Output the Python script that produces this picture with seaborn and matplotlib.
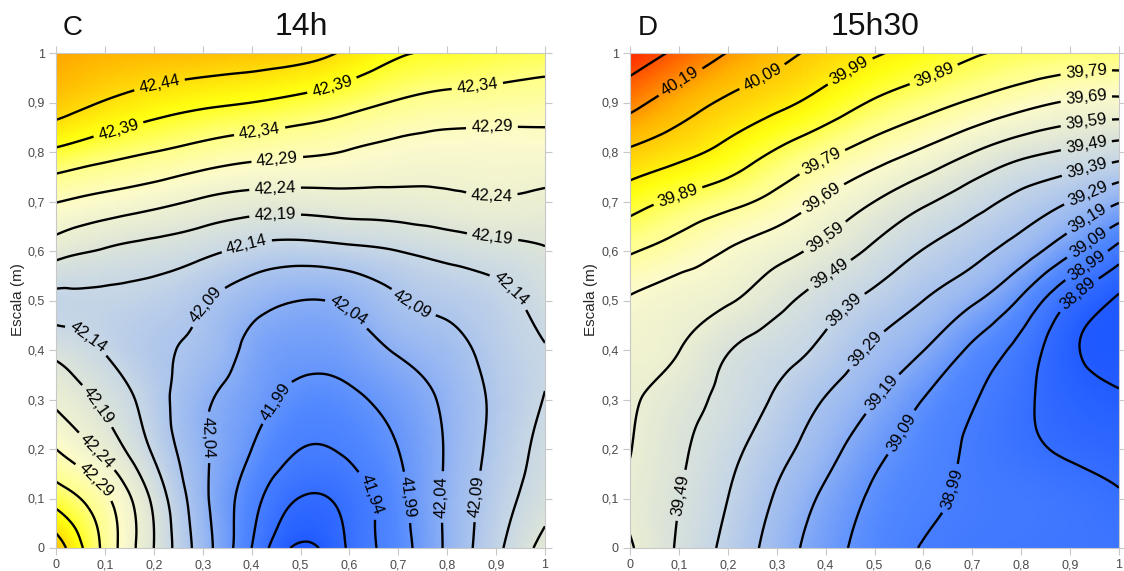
import numpy as np
import matplotlib
matplotlib.use("Agg")
import matplotlib.pyplot as plt
import matplotlib.tri as mtri
from matplotlib.colors import LinearSegmentedColormap, Normalize
import seaborn as sns

# ---------------------------------------------------------------------------
# Temperature fields (°C) sampled on a 0.1 m grid; rows run from y = 0 to 1
# ---------------------------------------------------------------------------
grid_x = [0.0, 0.1, 0.2, 0.3, 0.4, 0.5, 0.6, 0.7, 0.8, 0.9, 1.0]
grid_y = [0.0, 0.1, 0.2, 0.3, 0.4, 0.5, 0.6, 0.7, 0.8, 0.9, 1.0]

temp_14h = [
    [42.470, 42.326, 42.190, 42.064, 41.940, 41.830, 41.897, 41.969, 42.048, 42.128, 42.210],
    [42.370, 42.300, 42.178, 42.053, 41.960, 41.888, 41.910, 41.976, 42.048, 42.115, 42.170],
    [42.290, 42.225, 42.132, 42.048, 41.990, 41.940, 41.950, 41.990, 42.045, 42.105, 42.155],
    [42.230, 42.178, 42.113, 42.050, 42.010, 41.975, 41.980, 42.010, 42.050, 42.100, 42.142],
    [42.175, 42.137, 42.100, 42.075, 42.027, 42.005, 42.014, 42.045, 42.070, 42.110, 42.138],
    [42.130, 42.130, 42.120, 42.095, 42.060, 42.040, 42.050, 42.085, 42.105, 42.125, 42.160],
    [42.210, 42.185, 42.170, 42.152, 42.127, 42.118, 42.127, 42.140, 42.157, 42.171, 42.186],
    [42.292, 42.273, 42.255, 42.233, 42.218, 42.215, 42.220, 42.222, 42.228, 42.235, 42.228],
    [42.381, 42.358, 42.340, 42.322, 42.307, 42.298, 42.287, 42.274, 42.268, 42.268, 42.270],
    [42.465, 42.437, 42.415, 42.400, 42.390, 42.376, 42.357, 42.336, 42.323, 42.318, 42.313],
    [42.500, 42.490, 42.485, 42.480, 42.470, 42.460, 42.430, 42.395, 42.385, 42.373, 42.365],
]

temp_15h30 = [
    [39.600, 39.478, 39.363, 39.247, 39.132, 39.048, 38.985, 38.960, 38.945, 38.935, 38.930],
    [39.575, 39.492, 39.390, 39.279, 39.169, 39.072, 39.012, 38.975, 38.955, 38.930, 38.900],
    [39.593, 39.508, 39.422, 39.326, 39.228, 39.121, 39.039, 38.974, 38.917, 38.875, 38.850],
    [39.605, 39.535, 39.459, 39.376, 39.285, 39.194, 39.088, 38.999, 38.915, 38.835, 38.800],
    [39.635, 39.592, 39.496, 39.433, 39.363, 39.274, 39.192, 39.070, 38.954, 38.810, 38.760],
    [39.680, 39.640, 39.600, 39.521, 39.438, 39.362, 39.290, 39.205, 39.075, 38.890, 38.775],
    [39.800, 39.745, 39.685, 39.626, 39.556, 39.469, 39.386, 39.322, 39.240, 39.110, 38.950],
    [39.930, 39.871, 39.820, 39.758, 39.676, 39.590, 39.507, 39.431, 39.359, 39.290, 39.197],
    [40.075, 40.021, 39.958, 39.881, 39.811, 39.743, 39.674, 39.593, 39.520, 39.475, 39.434],
    [40.220, 40.141, 40.073, 40.017, 39.950, 39.880, 39.829, 39.778, 39.725, 39.680, 39.665],
    [40.350, 40.269, 40.187, 40.120, 40.059, 40.001, 39.950, 39.900, 39.875, 39.860, 39.850],
]

levels_14h = [41.84, 41.89, 41.94, 41.99, 42.04, 42.09, 42.14, 42.19,
              42.24, 42.29, 42.34, 42.39, 42.44]
levels_15h30 = [38.79, 38.89, 38.99, 39.09, 39.19, 39.29, 39.39, 39.49,
                39.59, 39.69, 39.79, 39.89, 39.99, 40.09, 40.19, 40.29]

tick_values = [0.0, 0.1, 0.2, 0.3, 0.4, 0.5, 0.6, 0.7, 0.8, 0.9, 1.0]
tick_labels = ["0", "0,1", "0,2", "0,3", "0,4", "0,5", "0,6", "0,7", "0,8", "0,9", "1"]

panel_letters = ["C", "D"]
panel_titles = ["14h", "15h30"]
y_title = "Escala (m)"

# Where the contour labels sit (level, x, y)
label_spots_14h = [
    (42.44, 0.213, 0.929), (42.39, 0.127, 0.848), (42.39, 0.566, 0.929),
    (42.34, 0.417, 0.838), (42.34, 0.861, 0.939), (42.29, 0.452, 0.790),
    (42.29, 0.892, 0.842), (42.24, 0.448, 0.727), (42.24, 0.892, 0.743),
    (42.19, 0.448, 0.677), (42.19, 0.894, 0.638), (42.14, 0.387, 0.622),
    (42.14, 0.908, 0.501), (42.09, 0.321, 0.481), (42.09, 0.728, 0.491),
    (42.04, 0.585, 0.461), (42.14, 0.045, 0.400), (42.19, 0.074, 0.279),
    (42.24, 0.076, 0.188), (42.29, 0.076, 0.131), (42.04, 0.315, 0.224),
    (41.99, 0.438, 0.303), (41.94, 0.642, 0.107), (41.99, 0.724, 0.103),
    (42.04, 0.793, 0.103), (42.09, 0.871, 0.103),
]
label_spots_15h30 = [
    (40.19, 0.101, 0.945), (40.09, 0.268, 0.956), (39.99, 0.446, 0.970),
    (39.89, 0.619, 0.962), (39.79, 0.933, 0.962), (39.69, 0.933, 0.909),
    (39.59, 0.933, 0.861), (39.49, 0.933, 0.814), (39.39, 0.933, 0.770),
    (39.29, 0.933, 0.723), (39.19, 0.929, 0.677), (39.09, 0.929, 0.628),
    (38.99, 0.929, 0.578), (38.89, 0.913, 0.517), (39.89, 0.101, 0.703),
    (39.79, 0.396, 0.774), (39.69, 0.396, 0.703), (39.59, 0.406, 0.618),
    (39.49, 0.416, 0.541), (39.39, 0.442, 0.477), (39.29, 0.483, 0.400),
    (39.19, 0.507, 0.319), (39.09, 0.554, 0.234), (38.99, 0.645, 0.123),
    (39.49, 0.101, 0.107),
]

# ---------------------------------------------------------------------------
sns.set_theme(style="white")
plt.rcParams["font.family"] = ["Liberation Sans", "DejaVu Sans"]

# blue -> pale -> yellow -> orange -> red ramp
ramp = LinearSegmentedColormap.from_list(
    "thermal_ramp",
    [(0.00, "#1e58ff"), (0.18, "#5289ff"), (0.30, "#9ab9f2"),
     (0.40, "#c6d6e6"), (0.49, "#e2e8d6"), (0.59, "#fcfbcb"),
     (0.67, "#ffff8a"), (0.75, "#ffff10"), (0.87, "#ffb400"),
     (1.00, "#ff2a00")],
)

fig = plt.figure(figsize=(11.24, 5.71), dpi=100)
ax_c = fig.add_axes([56 / 1124, 23 / 571, 489 / 1124, 495 / 571])
ax_d = fig.add_axes([630 / 1124, 23 / 571, 489 / 1124, 495 / 571])


def comma_fmt(v):
    return f"{v:.2f}".replace(".", ",")


def draw_panel(ax, field, levels, spots, vmin, vmax):
    gx, gy = np.meshgrid(grid_x, grid_y)
    tri = mtri.Triangulation(gx.ravel(), gy.ravel())
    tri_f, z_f = mtri.UniformTriRefiner(tri).refine_field(
        np.asarray(field, dtype=float).ravel(), subdiv=4)
    ax.tripcolor(tri_f, z_f, shading="gouraud", cmap=ramp,
                 norm=Normalize(vmin=vmin, vmax=vmax), rasterized=True)
    for lv in levels:
        cs = ax.tricontour(tri_f, z_f, levels=[lv], colors="black",
                           linewidths=1.7)
        pts = [(x, y) for (l, x, y) in spots if abs(l - lv) < 1e-6]
        if pts:
            ax.clabel(cs, manual=pts, fmt=comma_fmt, fontsize=12,
                      inline=True, inline_spacing=5, colors="black")

    ax.set_xlim(0, 1)
    ax.set_ylim(0, 1)
    ax.set_xticks(tick_values)
    ax.set_xticklabels(tick_labels)
    ax.set_yticks(tick_values)
    ax.set_yticklabels(tick_labels)
    ax.tick_params(axis="both", which="both", direction="out", length=5,
                   width=0.8, color="#c8c8c8", labelsize=9,
                   labelcolor="#4a4a4a", pad=3,
                   top=True, right=True, bottom=True, left=True,
                   labeltop=False, labelright=False)
    for sp in ax.spines.values():
        sp.set_color("#c8c8c8")
        sp.set_linewidth(0.8)


draw_panel(ax_c, temp_14h, levels_14h, label_spots_14h, 41.83, 42.59)
draw_panel(ax_d, temp_15h30, levels_15h30, label_spots_15h30, 38.76, 40.35)

# Panel letters, titles and axis captions
fig.text(73 / 1124, 1 - 35 / 571, panel_letters[0], fontsize=20,
         ha="center", va="baseline", color="#111111")
fig.text(301 / 1124, 1 - 35 / 571, panel_titles[0], fontsize=23,
         ha="center", va="baseline", color="#111111")
fig.text(648 / 1124, 1 - 35 / 571, panel_letters[1], fontsize=20,
         ha="center", va="baseline", color="#111111")
fig.text(875 / 1124, 1 - 35 / 571, panel_titles[1], fontsize=23,
         ha="center", va="baseline", color="#111111")
fig.text(18 / 1124, 1 - 300 / 571, y_title, rotation=90, fontsize=11,
         ha="center", va="center", color="#262626")
fig.text(591 / 1124, 1 - 300 / 571, y_title, rotation=90, fontsize=11,
         ha="center", va="center", color="#262626")

fig.savefig("out.png", dpi=100)
